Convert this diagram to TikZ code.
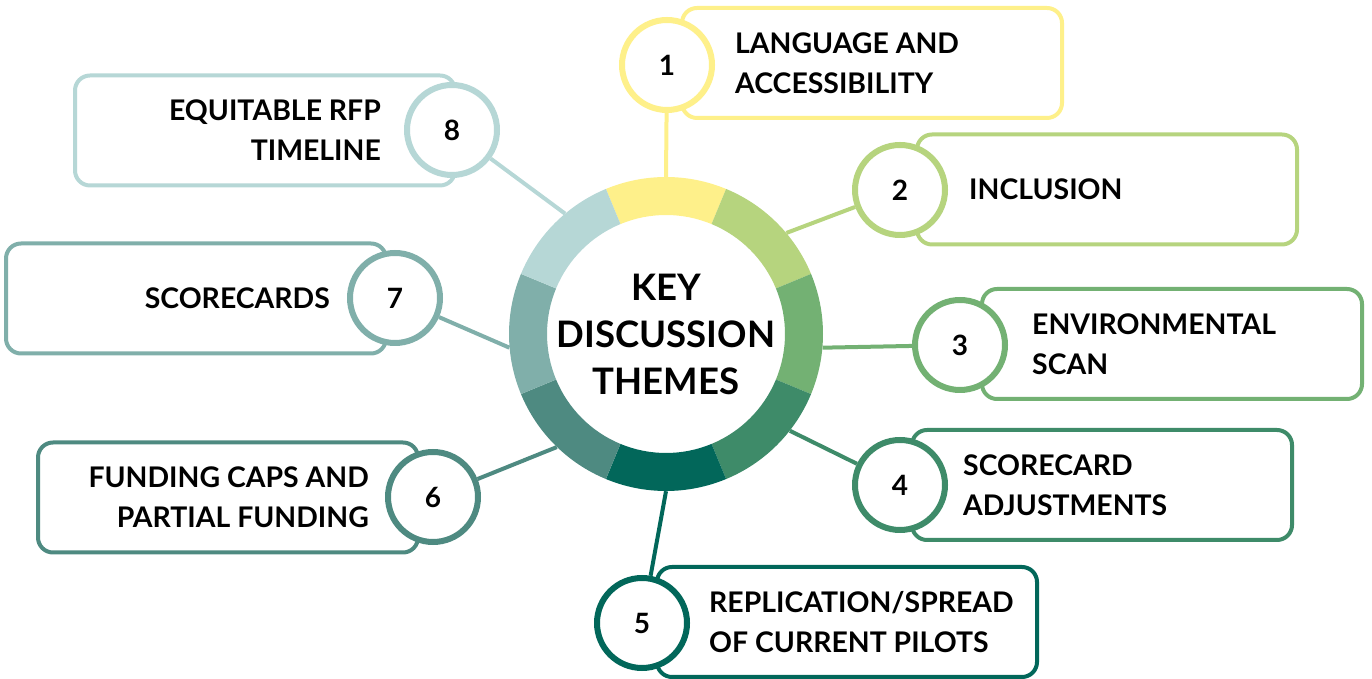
\documentclass[tikz,border=0pt]{standalone}
\usepackage{fontspec}
\setmainfont{Lato}
\usetikzlibrary{positioning}

\definecolor{theme1}{HTML}{FEF08A}
\definecolor{theme2}{HTML}{B6D47E}
\definecolor{theme3}{HTML}{73B173}
\definecolor{theme4}{HTML}{3E8B69}
\definecolor{theme5}{HTML}{02675A}
\definecolor{theme6}{HTML}{4E8A81}
\definecolor{theme7}{HTML}{80AFAA}
\definecolor{theme8}{HTML}{B6D7D6}

\tikzset{%
	hubcirc/.style   = {circle, minimum size=314pt, inner sep=0pt, align=center, font=\fontsize{36.5}{47}\selectfont\bfseries},
	numcirc/.style   = {draw=#1, circle, line width=6pt, fill=white, minimum size=90pt, inner sep=0pt, font=\fontsize{28}{28}\selectfont\bfseries},
	themebox/.style  = {draw=#1, rectangle, rounded corners=15pt, line width=4pt, fill=white, minimum width=380pt, minimum height=110pt},
	themetext/.style = {inner sep=0pt, font=\fontsize{28.4}{40}\selectfont\bfseries},
	link/.style      = {draw=#1, line width=4pt},
}

\begin{document}
\begin{tikzpicture}[x=1pt,y=1pt]
	\useasboundingbox (0,0) rectangle (1372,679);

	% centre with the coloured ring
	\node [hubcirc] (hub) at (666,345) {KEY\\DISCUSSION\\THEMES};
	\fill[theme1] (hub.center) ++(67.5:157) arc[start angle=67.5, end angle=112.5, radius=157] -- ++(292.5:38) arc[start angle=112.5, end angle=67.5, radius=119] -- cycle;
	\fill[theme2] (hub.center) ++(22.5:157) arc[start angle=22.5, end angle=67.5, radius=157] -- ++(247.5:38) arc[start angle=67.5, end angle=22.5, radius=119] -- cycle;
	\fill[theme3] (hub.center) ++(-22.5:157) arc[start angle=-22.5, end angle=22.5, radius=157] -- ++(202.5:38) arc[start angle=22.5, end angle=-22.5, radius=119] -- cycle;
	\fill[theme4] (hub.center) ++(-67.5:157) arc[start angle=-67.5, end angle=-22.5, radius=157] -- ++(157.5:38) arc[start angle=-22.5, end angle=-67.5, radius=119] -- cycle;
	\fill[theme5] (hub.center) ++(-112.5:157) arc[start angle=-112.5, end angle=-67.5, radius=157] -- ++(112.5:38) arc[start angle=-67.5, end angle=-112.5, radius=119] -- cycle;
	\fill[theme6] (hub.center) ++(-157.5:157) arc[start angle=-157.5, end angle=-112.5, radius=157] -- ++(67.5:38) arc[start angle=-112.5, end angle=-157.5, radius=119] -- cycle;
	\fill[theme7] (hub.center) ++(157.5:157) arc[start angle=157.5, end angle=202.5, radius=157] -- ++(22.5:38) arc[start angle=202.5, end angle=157.5, radius=119] -- cycle;
	\fill[theme8] (hub.center) ++(112.5:157) arc[start angle=112.5, end angle=157.5, radius=157] -- ++(-22.5:38) arc[start angle=157.5, end angle=112.5, radius=119] -- cycle;

	% themes on the right
	\node [themebox=theme1, anchor=west] (b1) at (680,616) {};
	\node [themetext, right=55pt of b1.west, align=left] (t1) {LANGUAGE AND\\ACCESSIBILITY};
	\node [numcirc=theme1] (n1) at (667,614) {1};

	\node [themebox=theme2, anchor=west] (b2) at (915,489.5) {};
	\node [themetext, right=54pt of b2.west, align=left] (t2) {INCLUSION};
	\node [numcirc=theme2] (n2) at (900,489) {2};

	\node [themebox=theme3, anchor=west] (b3) at (980,335) {};
	\node [themetext, right=52pt of b3.west, align=left] (t3) {ENVIRONMENTAL\\SCAN};
	\node [numcirc=theme3] (n3) at (960,334) {3};

	\node [themebox=theme4, anchor=west] (b4) at (910,194) {};
	\node [themetext, right=53pt of b4.west, align=left] (t4) {SCORECARD\\ADJUSTMENTS};
	\node [numcirc=theme4] (n4) at (900,194) {4};

	\node [themebox=theme5, anchor=west] (b5) at (655,57) {};
	\node [themetext, right=54pt of b5.west, align=left] (t5) {REPLICATION/SPREAD\\OF CURRENT PILOTS};
	\node [numcirc=theme5] (n5) at (642,56) {5};

	% themes on the left
	\node [themebox=theme6, anchor=east] (b6) at (420,181.5) {};
	\node [themetext, left=51pt of b6.east, align=right] (t6) {FUNDING CAPS AND\\PARTIAL FUNDING};
	\node [numcirc=theme6] (n6) at (433,182) {6};

	\node [themebox=theme7, anchor=east] (b7) at (388,380.5) {};
	\node [themetext, left=58pt of b7.east, align=right] (t7) {SCORECARDS};
	\node [numcirc=theme7] (n7) at (395,381) {7};

	\node [themebox=theme8, anchor=east] (b8) at (457,548.5) {};
	\node [themetext, left=76pt of b8.east, align=right] (t8) {EQUITABLE RFP\\TIMELINE};
	\node [numcirc=theme8] (n8) at (452,549) {8};

	% spokes
	\draw[link=theme1] (hub.90) -- (n1);
	\draw[link=theme2] (hub.40) -- (n2);
	\draw[link=theme3] (hub.-5) -- (n3);
	\draw[link=theme4] (hub.-38) -- (n4);
	\draw[link=theme5] (hub.-90) -- (n5);
	\draw[link=theme6] (hub.-134) -- (n6);
	\draw[link=theme7] (hub.185) -- (n7);
	\draw[link=theme8] (hub.130) -- (n8);
\end{tikzpicture}
\end{document}
